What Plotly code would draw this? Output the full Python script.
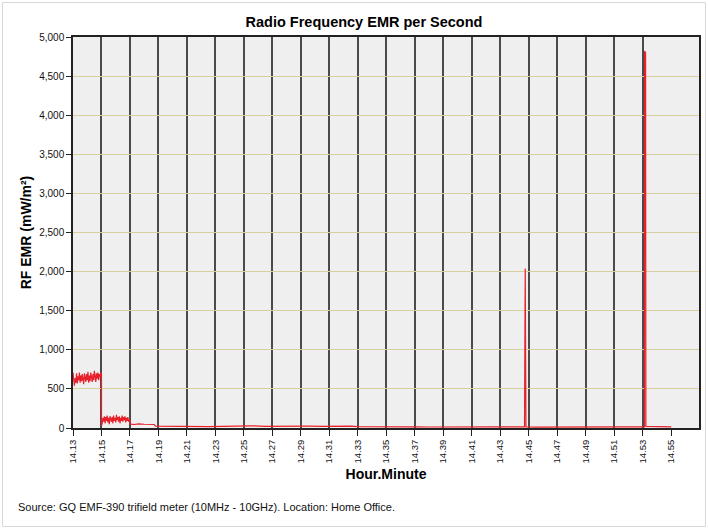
import plotly.graph_objects as go

# ---- data (minutes after 14:00, RF EMR in mW/m2) ----
tick_labels = ["14.13", "14.15", "14.17", "14.19", "14.21", "14.23", "14.25", "14.27",
               "14.29", "14.31", "14.33", "14.35", "14.37", "14.39", "14.41", "14.43",
               "14.45", "14.47", "14.49", "14.51", "14.53", "14.55"]

# 14:13 - 14:15, sampled every 3 s
seg1_start = 13.0
seg1_values = [710, 620, 540, 640, 580, 700, 570, 660, 610, 710, 580, 670, 600, 690,
               640, 560, 700, 620, 590, 690, 610, 720, 580, 670, 600, 710, 630, 590,
               690, 610, 730, 640, 590, 700, 630, 710, 610, 690, 650, 710, 690]
# 14:15 - 14:17, sampled every 3 s
seg2_start = 15.0
seg2_values = [30, 60, 130, 80, 150, 60, 140, 90, 160, 70, 130, 50, 150, 100, 80, 140,
               60, 160, 90, 130, 70, 170, 100, 140, 80, 150, 60, 130, 90, 160, 80,
               140, 100, 150, 70, 130, 90, 140, 80, 110, 60]
sample_step = 0.05

# 14:17 onwards, sparse readings
seg3_minutes = [17.05, 17.3, 17.6, 18.0, 18.4, 18.7, 18.8, 19.5, 20.5, 21.5, 22.5, 23.5,
                24.5, 25.5, 26.5, 27.5, 28.5, 29.5, 30.5, 31.5, 32.5, 33.0, 34.0, 35.0,
                36.0, 37.0, 38.0, 39.0, 40.0, 41.0, 42.0, 43.0, 44.0, 44.7, 44.75, 44.8,
                45.5, 46.5, 47.5, 48.5, 49.5, 50.5, 51.5, 52.5, 53.12, 53.13, 53.2,
                53.22, 54.0, 55.0]
seg3_values = [50, 45, 52, 48, 50, 45, 25, 22, 20, 22, 18, 20,
               25, 28, 22, 25, 30, 24, 22, 28, 25, 18, 15, 14,
               16, 15, 13, 15, 14, 16, 14, 15, 14, 15, 2040, 15,
               12, 14, 12, 13, 12, 14, 15, 14, 15, 4820, 4800,
               20, 15, 14]

title_text = "Radio Frequency EMR per Second"
y_title = "RF EMR (mW/m²)"
x_title = "Hour.Minute"
footer = "Source: GQ EMF-390 trifield meter (10MHz - 10GHz). Location: Home Office."

# ---- build series ----
x = ([seg1_start + i * sample_step for i in range(len(seg1_values))]
     + [seg2_start + i * sample_step for i in range(len(seg2_values))]
     + seg3_minutes)
y = seg1_values + seg2_values + seg3_values

tick_vals = [int(s.split(".")[1]) for s in tick_labels]

W, H = 708, 529
ml, mr, mt, mb = 73, 9, 37, 101
pw, ph = W - ml - mr, H - mt - mb

fig = go.Figure()
# invisible copy on the base x axis so its grid and frame are drawn
fig.add_trace(go.Scatter(x=x, y=y, mode="lines", xaxis="x", yaxis="y",
                         line=dict(color="rgba(0,0,0,0)", width=0),
                         hoverinfo="skip", showlegend=False))
fig.add_trace(go.Scatter(x=x, y=y, mode="lines", xaxis="x2", yaxis="y",
                         line=dict(color="#e8202a", width=1.2),
                         hoverinfo="skip", showlegend=False))

font_family = "Liberation Sans, Arial, sans-serif"
xr = [13.0, 56.95]

fig.update_layout(
    width=W, height=H,
    margin=dict(l=ml, r=mr, t=mt, b=mb, autoexpand=False),
    paper_bgcolor="white",
    plot_bgcolor="#efefef",
    font=dict(family=font_family, color="#111"),
    title=dict(text="<b>" + title_text + "</b>", x=364 / W, xanchor="center",
               y=1 - 22 / H, yanchor="middle", font=dict(size=14.5, color="#000")),
    xaxis=dict(range=xr, tickvals=tick_vals[:-1], showticklabels=False, ticks="",
               showgrid=True, gridcolor="#4a4a4a", gridwidth=1.5,
               showline=True, mirror=True, linecolor="#222", linewidth=1.5,
               zeroline=False, fixedrange=True),
    xaxis2=dict(range=xr, overlaying="x", anchor="y", side="bottom",
                tickvals=tick_vals, ticktext=tick_labels, tickangle=-90,
                ticks="outside", ticklen=7, tickcolor="#222", tickwidth=1,
                tickfont=dict(size=9.5, color="#111"), showgrid=False,
                zeroline=False, showline=False,
                title=dict(text="<b>" + x_title + "</b>", font=dict(size=14, color="#000"),
                           standoff=6)),
    yaxis=dict(range=[0, 5000], dtick=500, tickformat=",", ticks="outside", ticklen=5,
               tickcolor="#222", tickfont=dict(size=10, color="#111"),
               showgrid=True, gridcolor="#d6d09e", gridwidth=1,
               showline=True, mirror=True, linecolor="#222", linewidth=1.5,
               zeroline=False,
               title=dict(text="<b>" + y_title + "</b>", font=dict(size=14, color="#000"),
                          standoff=4)),
)

# outer light border around the whole chart
fig.add_shape(type="rect", xref="paper", yref="paper",
              x0=(2.5 - ml) / pw, x1=(705.5 - ml) / pw,
              y0=(H - mb - 526.5) / ph, y1=(H - mb - 2.5) / ph,
              line=dict(color="#d8d8d8", width=1), fillcolor="rgba(0,0,0,0)",
              layer="below")

fig.add_annotation(text=footer, xref="paper", yref="paper",
                   x=(16 - ml) / pw, y=(H - mb - 507) / ph,
                   xanchor="left", yanchor="middle", showarrow=False,
                   font=dict(size=11, color="#111"))

fig.write_html("out.html", config={"displayModeBar": False},
               post_script="document.body.style.margin='0';")
